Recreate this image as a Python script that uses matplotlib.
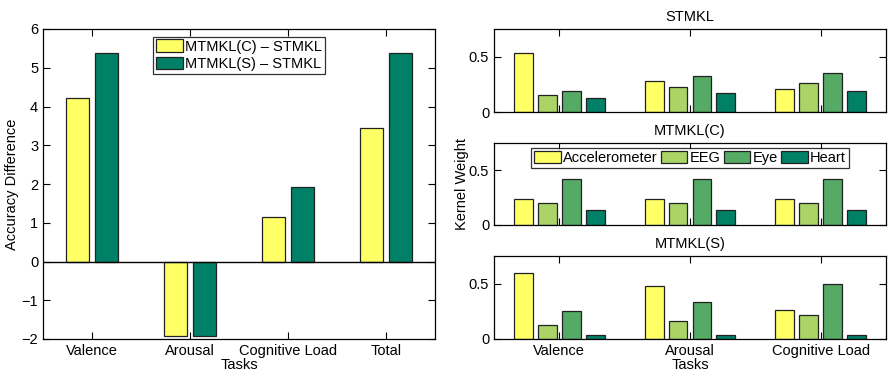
import numpy as np
import matplotlib.pyplot as plt

plt.rcParams['font.family'] = ['Liberation Sans', 'DejaVu Sans']
plt.rcParams['font.size'] = 10.5

# left panel: accuracy difference per task
tasks_all = ['Valence', 'Arousal', 'Cognitive Load', 'Total']
diff_c = [4.22, -1.93, 1.15, 3.45]
diff_s = [5.38, -1.93, 1.92, 5.38]

# right panels: kernel weights per modality
tasks = ['Valence', 'Arousal', 'Cognitive Load']
modalities = ['Accelerometer', 'EEG', 'Eye', 'Heart']
w_stmkl = [[0.537, 0.282, 0.205],
           [0.150, 0.227, 0.260],
           [0.193, 0.325, 0.353],
           [0.126, 0.172, 0.190]]
w_mtmkl_c = [[0.239, 0.239, 0.239],
             [0.205, 0.205, 0.205],
             [0.423, 0.423, 0.423],
             [0.138, 0.138, 0.138]]
w_mtmkl_s = [[0.594, 0.476, 0.258],
             [0.124, 0.167, 0.215],
             [0.250, 0.336, 0.500],
             [0.040, 0.033, 0.040]]

summer = ['#FFFF66', '#AAD466', '#55AA66', '#008066']
edge = '#222222'

W, H = 888, 373
fig = plt.figure(figsize=(W / 100, H / 100), dpi=100)


def px_axes(x0, y0, x1, y1):
    return fig.add_axes([x0 / W, 1 - y1 / H, (x1 - x0) / W, (y1 - y0) / H])


def style(ax):
    ax.tick_params(direction='in', top=True, right=True, length=5, width=0.8)
    for s in ax.spines.values():
        s.set_linewidth(0.9)


# ---- left chart
ax = px_axes(43, 29, 435, 339)
x = np.arange(1, len(tasks_all) + 1)
ax.bar(x - 0.145, diff_c, 0.235, color=summer[0], edgecolor=edge, lw=0.9,
       label='MTMKL(C) – STMKL')
ax.bar(x + 0.145, diff_s, 0.235, color=summer[3], edgecolor=edge, lw=0.9,
       label='MTMKL(S) – STMKL')
ax.axhline(0, color='black', lw=1)
ax.set_xlim(0.5, 4.5)
ax.set_ylim(-2, 6)
ax.set_xticks(x)
ax.set_xticklabels(tasks_all)
ax.set_yticks(range(-2, 7))
ax.set_xlabel('Tasks', labelpad=0)
ax.set_ylabel('Accuracy Difference', labelpad=2)
style(ax)
leg = ax.legend(loc='upper center', bbox_to_anchor=(0.5, 0.985), fancybox=False,
                edgecolor='black', handlelength=1.8, handleheight=0.9,
                handletextpad=0.15, borderpad=0.2, labelspacing=0.25,
                borderaxespad=0.2)
leg.get_frame().set_linewidth(0.9)

# ---- right charts
panels = [(w_stmkl, 'STMKL', 29, 112),
          (w_mtmkl_c, 'MTMKL(C)', 143, 225),
          (w_mtmkl_s, 'MTMKL(S)', 256, 339)]
xr = np.arange(1, len(tasks) + 1)
offs = [-0.275, -0.092, 0.092, 0.275]
for i, (weights, title, y0, y1) in enumerate(panels):
    ax = px_axes(494, y0, 886, y1)
    for k, name in enumerate(modalities):
        ax.bar(xr + offs[k], weights[k], 0.145, color=summer[k],
               edgecolor=edge, lw=0.9, label=name)
    ax.set_xlim(0.5, 3.5)
    ax.set_ylim(0, 0.75)
    ax.set_yticks([0, 0.5])
    ax.set_yticklabels(['0', '0.5'])
    ax.set_xticks(xr)
    ax.set_title(title, fontsize=10.5, pad=6)
    style(ax)
    if i == 2:
        ax.set_xticklabels(tasks)
        ax.set_xlabel('Tasks', labelpad=0)
    else:
        ax.set_xticklabels([])
    if i == 1:
        ax.set_ylabel('Kernel Weight', labelpad=0)
        leg = ax.legend(loc='upper center', ncol=4, bbox_to_anchor=(0.5, 0.94),
                        fancybox=False, edgecolor='black', handlelength=1.8,
                        handleheight=0.9, handletextpad=0.15, columnspacing=0.25,
                        borderpad=0.2, borderaxespad=0)
        leg.get_frame().set_linewidth(0.9)

fig.savefig('out.png', dpi=100)
